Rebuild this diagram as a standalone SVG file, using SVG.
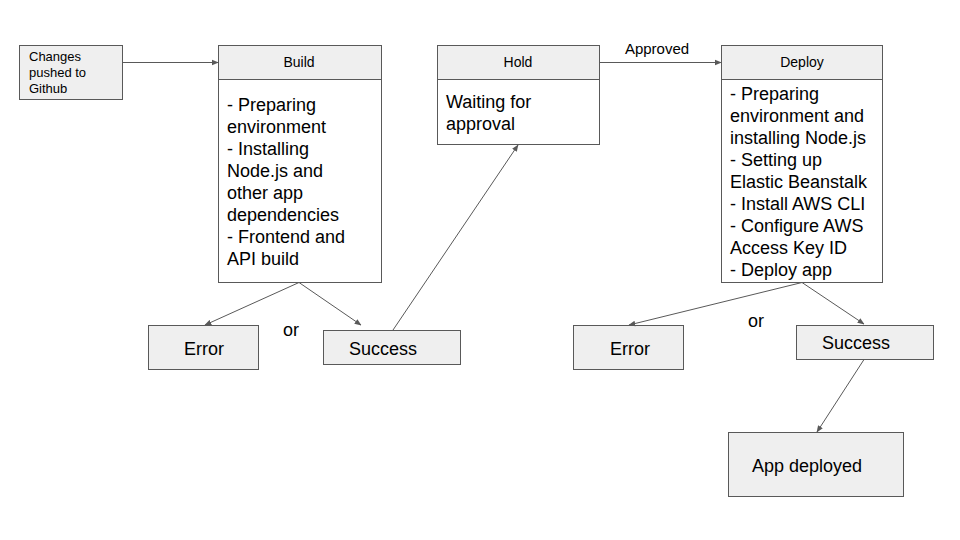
<svg xmlns="http://www.w3.org/2000/svg" width="960" height="540" viewBox="0 0 960 540">
<defs>
<marker id="ah" viewBox="0 0 10 10" refX="9" refY="5" markerWidth="7" markerHeight="7" orient="auto" markerUnits="userSpaceOnUse">
<path d="M0,1 L10,5 L0,9 Z" fill="#595959"/>
</marker>
<style>
.box{fill:#efefef;stroke:#595959;stroke-width:1}
.body{fill:#ffffff;stroke:#595959;stroke-width:1}
.t{font-family:"Liberation Sans",Arial,sans-serif;fill:#000}
.s{font-size:13px}
.h{font-size:14px}
.l{font-size:18px}
.c{text-anchor:middle}
.e{fill:none;stroke:#595959;stroke-width:1;marker-end:url(#ah)}
</style>
</defs>
<rect width="960" height="540" fill="#ffffff"/>
<g id="changes">
<rect class="box" x="19.5" y="45.5" width="103" height="54"/>
<text class="t s" x="29" y="61">Changes</text>
<text class="t s" x="29" y="77">pushed to</text>
<text class="t s" x="29" y="93">Github</text>
</g>
<g id="build">
<rect class="body" x="218.5" y="45.5" width="163" height="237"/>
<rect class="box" x="218.5" y="45.5" width="163" height="34"/>
<text class="t h c" x="299" y="67">Build</text>
<text class="t l" x="227" y="111">- Preparing</text>
<text class="t l" x="227" y="133">environment</text>
<text class="t l" x="227" y="155">- Installing</text>
<text class="t l" x="227" y="177">Node.js and</text>
<text class="t l" x="227" y="199">other app</text>
<text class="t l" x="227" y="221">dependencies</text>
<text class="t l" x="227" y="243">- Frontend and</text>
<text class="t l" x="227" y="265">API build</text>
</g>
<g id="hold">
<rect class="body" x="437.5" y="45.5" width="162" height="99"/>
<rect class="box" x="437.5" y="45.5" width="162" height="34"/>
<text class="t h c" x="518" y="67">Hold</text>
<text class="t l" x="446" y="108">Waiting for</text>
<text class="t l" x="446" y="130">approval</text>
</g>
<g id="deploy">
<rect class="body" x="721.5" y="45.5" width="161" height="237"/>
<rect class="box" x="721.5" y="45.5" width="161" height="34"/>
<text class="t h c" x="802" y="67">Deploy</text>
<text class="t l" x="730" y="100">- Preparing</text>
<text class="t l" x="730" y="122">environment and</text>
<text class="t l" x="730" y="144">installing Node.js</text>
<text class="t l" x="730" y="166">- Setting up</text>
<text class="t l" x="730" y="188">Elastic Beanstalk</text>
<text class="t l" x="730" y="210">- Install AWS CLI</text>
<text class="t l" x="730" y="232">- Configure AWS</text>
<text class="t l" x="730" y="254">Access Key ID</text>
<text class="t l" x="730" y="276">- Deploy app</text>
</g>
<g id="error1">
<rect class="box" x="148.5" y="325.5" width="110" height="44"/>
<text class="t l c" x="204" y="355">Error</text>
</g>
<g id="success1">
<rect class="box" x="323.5" y="330.5" width="137" height="34"/>
<text class="t l c" x="383" y="355">Success</text>
</g>
<g id="error2">
<rect class="box" x="573.5" y="325.5" width="110" height="44"/>
<text class="t l c" x="630" y="355">Error</text>
</g>
<g id="success2">
<rect class="box" x="796.5" y="325.5" width="137" height="34"/>
<text class="t l c" x="856" y="349">Success</text>
</g>
<g id="deployed">
<rect class="box" x="728.5" y="432.5" width="175" height="64"/>
<text class="t l" x="752" y="472">App deployed</text>
</g>
<g id="labels">
<text class="t l c" x="291" y="336">or</text>
<text class="t l c" x="756" y="327">or</text>
<text class="t c" style="font-size:15px" x="657" y="54">Approved</text>
</g>
<g id="connectors">
<path class="e" d="M122.5,62.5 L218,62.5"/>
<path class="e" d="M599.5,62.5 L721,62.5"/>
<path class="e" d="M299,282.5 L205,325"/>
<path class="e" d="M299,282.5 L361,325"/>
<path class="e" d="M393,330 L518,145"/>
<path class="e" d="M802,282.5 L629,325"/>
<path class="e" d="M802,282.5 L864,324"/>
<path class="e" d="M864,359.5 L817,432"/>
</g>
</svg>
